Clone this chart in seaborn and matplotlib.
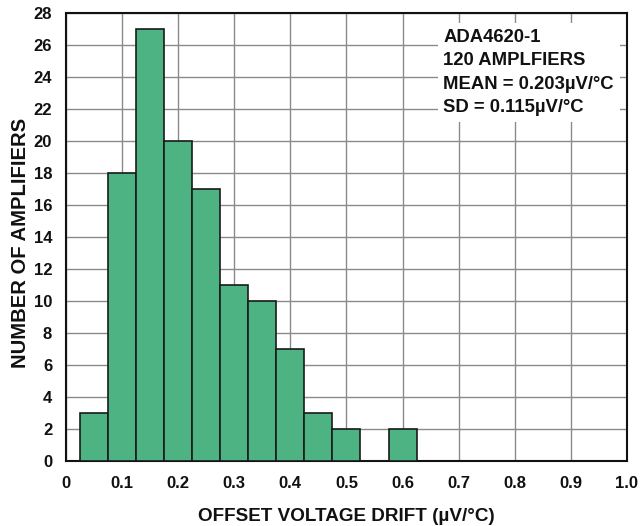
import matplotlib
matplotlib.use("Agg")
import matplotlib.pyplot as plt
import seaborn as sns
import numpy as np

# Data
bin_centers = [0.05, 0.10, 0.15, 0.20, 0.25, 0.30, 0.35, 0.40, 0.45, 0.50, 0.55, 0.60]
counts = [3, 18, 27, 20, 17, 11, 10, 7, 3, 2, 0, 2]
bin_edges = [0.025, 0.075, 0.125, 0.175, 0.225, 0.275, 0.325, 0.375, 0.425, 0.475, 0.525, 0.575, 0.625]
x_ticks = [0, 0.1, 0.2, 0.3, 0.4, 0.5, 0.6, 0.7, 0.8, 0.9, 1.0]
x_tick_labels = ["0", "0.1", "0.2", "0.3", "0.4", "0.5", "0.6", "0.7", "0.8", "0.9", "1.0"]
y_ticks = list(range(0, 29, 2))
info_lines = ["ADA4620-1", "120 AMPLFIERS", "MEAN = 0.203\u00b5V/\u00b0C", "SD = 0.115\u00b5V/\u00b0C"]

sns.set_style("white")
plt.rcParams['font.family'] = ['Liberation Sans', 'DejaVu Sans']
plt.rcParams['font.weight'] = 'bold'
plt.rcParams['text.color'] = '#111111'
plt.rcParams['axes.labelcolor'] = '#111111'
plt.rcParams['xtick.color'] = '#111111'
plt.rcParams['ytick.color'] = '#111111'

fig = plt.figure(figsize=(6.41, 5.26), dpi=100)
ax = fig.add_axes([0.103, 0.124, 0.875, 0.851])

sns.histplot(x=bin_centers, weights=counts, bins=bin_edges, ax=ax,
             color="#4db383", edgecolor="#1a1a1a", linewidth=1.2, alpha=1.0, zorder=3)

ax.set_xlim(0, 1.0)
ax.set_ylim(0, 28)
ax.set_xticks(x_ticks)
ax.set_xticklabels(x_tick_labels)
ax.set_yticks(y_ticks)
ax.grid(True, color="#8a8a8a", linewidth=1.0, zorder=0)
ax.set_axisbelow(True)
ax.tick_params(axis='x', length=0, labelsize=12, pad=11)
ax.tick_params(axis='y', length=0, labelsize=12, pad=10)
for lab in ax.get_xticklabels() + ax.get_yticklabels():
    lab.set_fontweight('bold')
for s in ax.spines.values():
    s.set_color("#111111")
    s.set_linewidth(1.5)

ax.set_xlabel("OFFSET VOLTAGE DRIFT (\u00b5V/\u00b0C)", fontsize=13.6, fontweight='bold', labelpad=12)
ax.set_ylabel("NUMBER OF AMPLIFIERS", fontsize=14.6, fontweight='bold')
ax.yaxis.set_label_coords(-0.064, 0.486)

ax.text(0.673, 0.965, "\n".join(info_lines), transform=ax.transAxes, ha='left', va='top',
        fontsize=13.3, fontweight='bold', linespacing=1.5, zorder=5,
        bbox=dict(boxstyle='square,pad=0.3', facecolor='white', edgecolor='none'))

fig.savefig("out.png", dpi=100)
